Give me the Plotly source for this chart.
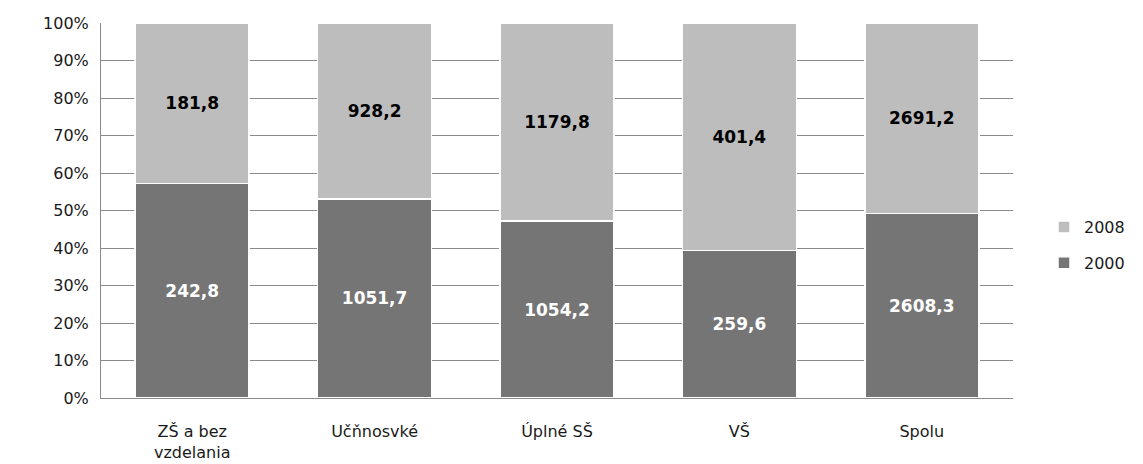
import plotly.graph_objects as go

categories = ["ZŠ a bez<br>vzdelania", "Učňnosvké", "Úplné SŠ", "VŠ", "Spolu"]
values_2000 = [242.8, 1051.7, 1054.2, 259.6, 2608.3]
values_2008 = [181.8, 928.2, 1179.8, 401.4, 2691.2]
y_ticks = [0, 10, 20, 30, 40, 50, 60, 70, 80, 90, 100]


def fmt(v):
    return f"{v:.1f}".replace(".", ",")


fig = go.Figure()
fig.add_trace(go.Bar(
    name="2000", x=categories, y=values_2000, legendgroup="a", legendrank=2,
    text=[fmt(v) for v in values_2000],
    marker=dict(color="#757575", line=dict(color="white", width=1.5)),
    textfont=dict(color="white", size=17, family="DejaVu Sans", weight="bold"),
))
fig.add_trace(go.Bar(
    name="2008", x=categories, y=values_2008, legendgroup="b", legendrank=1,
    text=[fmt(v) for v in values_2008],
    marker=dict(color="#bdbdbd", line=dict(color="white", width=1.5)),
    textfont=dict(color="black", size=17, family="DejaVu Sans", weight="bold"),
))
fig.update_traces(textposition="inside", insidetextanchor="middle",
                  textangle=0, constraintext="none", hoverinfo="skip")

# page body adds an 8px offset, so the margins are shifted by that amount
fig.update_layout(
    barmode="stack", barnorm="percent", bargap=0.375,
    width=1143, height=464,
    margin=dict(l=93, r=138, t=15, b=74, autoexpand=False),
    plot_bgcolor="white", paper_bgcolor="white",
    font=dict(family="DejaVu Sans", size=16, color="#1a1a1a"),
    legend=dict(xref="container", yref="container", x=1036 / 1143, y=1 - 237 / 464,
                xanchor="left", yanchor="middle", traceorder="grouped",
                font=dict(size=16), itemwidth=30, tracegroupgap=12),
)
fig.update_yaxes(range=[0, 100], tickvals=y_ticks,
                 ticktext=[f"{t}%" for t in y_ticks],
                 showgrid=True, gridcolor="#8a8a8a", gridwidth=1,
                 showline=True, linecolor="#8a8a8a", linewidth=1,
                 ticks="", ticklabelstandoff=8, zeroline=False, automargin=False)
fig.update_xaxes(showline=True, linecolor="#8a8a8a", linewidth=1,
                 ticks="", ticklabelstandoff=19, automargin=False)

fig.write_html("out.html")
